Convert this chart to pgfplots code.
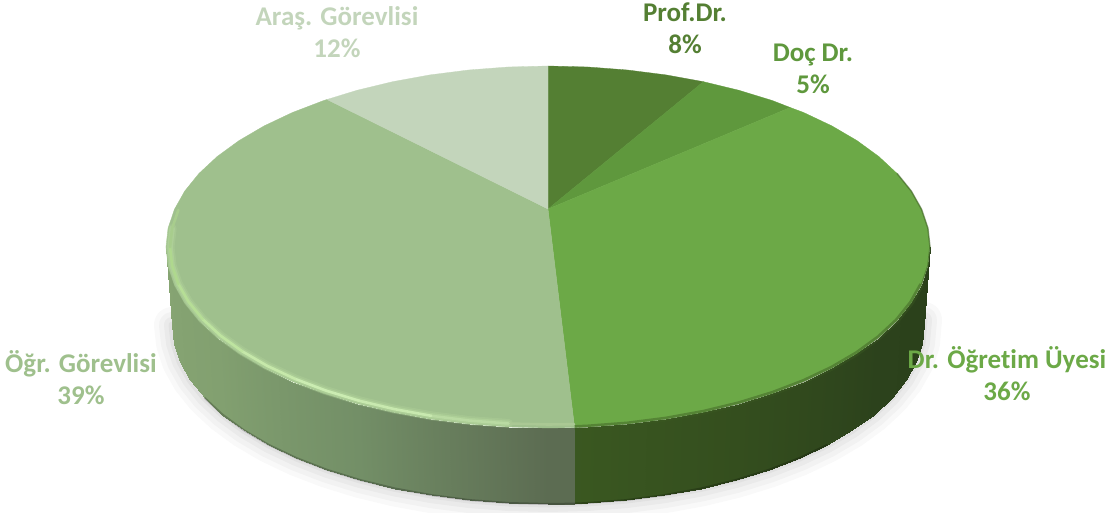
\documentclass[border=0pt]{standalone}
\usepackage{fontspec}
\setmainfont[Ligatures=NoCommon]{Carlito}
\usepackage{pgfplots}
\pgfplotsset{compat=1.18}
\definecolor{cProf}{RGB}{84,127,51}
\definecolor{cDoc}{RGB}{95,152,61}
\definecolor{cDr}{RGB}{108,169,71}
\definecolor{cOgr}{RGB}{159,192,141}
\definecolor{cAras}{RGB}{195,213,187}
\newcommand\hl[4]{\addplot[no marks, color={rgb,255:red,#1;green,#2;blue,#3}, line width=2.6pt, line cap=round] coordinates {#4};}
\pgfplotstableread{
x y
924 320
921.9 343.7
915.8 362.2
905.6 380.3
891.5 397.8
873.6 414.5
852.2 430.2
827.4 444.8
799.6 458
769 469.8
736 480
700.9 488.5
664.2 495.2
626.2 500.1
587.3 503
548 504
508.7 503
469.8 500.1
431.8 495.2
395.1 488.5
360 480
327 469.8
296.4 458
268.6 444.8
243.8 430.2
222.4 414.5
204.5 397.8
190.4 380.3
180.2 362.2
174.1 343.7
172 325
}\shadowedge
\pgfplotstableread{
x y
508.5 423.5
469.4 420.6
431.2 415.8
394.2 409.1
359 400.7
325.9 390.6
295.1 378.9
267.1 365.8
242.2 351.3
220.7 335.8
202.7 319.2
188.5 301.8
178.3 283.9
172.1 265.5
170 247
172.1 228.5
}\rimsoft
\pgfplotstableread{
x y
921.6 284.6
911.3 302.9
897 320.6
878.8 337.5
857 353.4
831.9 368.1
803.6 381.5
772.5 393.4
739 403.7
703.4 412.3
666 419.1
627.4 424
587.9 427
574.6 427.6
}\rimdark
\pgfplotstableread{
x y
897 173.4
911.3 191.1
921.6 209.4
927.9 228.1
930 247
927.9 265.9
921.6 284.6
}\rimthin
\pgfplotstableread{
x y
574.2 503.6
548 504
508.7 503
469.8 500.1
431.8 495.2
395.1 488.5
360 480
327 469.8
296.4 458
268.6 444.8
243.8 430.2
222.4 414.5
204.5 397.8
}\baseL
\pgfplotstableread{
x y
574.2 503.6
587.3 503
626.2 500.1
664.2 495.2
700.9 488.5
736 480
769 469.8
799.6 458
827.4 444.8
}\baseR
\begin{document}
\begin{tikzpicture}
\begin{axis}[
  scale only axis, width=1109pt, height=513pt,
  xmin=0, xmax=1109, ymin=0, ymax=513, y dir=reverse,
  hide axis, point meta min=0, point meta max=180,
  colormap={rwall}{rgb255=(42,64,26) rgb255=(44,66,28) rgb255=(52,78,30) rgb255=(59,89,33) rgb255=(59,89,33) rgb255=(59,89,33) rgb255=(59,89,33)},
  colormap={lwall}{rgb255=(92,108,82) rgb255=(92,108,82) rgb255=(92,108,82) rgb255=(92,108,82) rgb255=(115,143,103) rgb255=(130,160,112) rgb255=(135,165,115)},
]
% soft shadow
\addplot[no marks, gray, line width=36pt, opacity=.05, line join=round, line cap=round] table {\shadowedge};
\addplot[no marks, gray, line width=26pt, opacity=.06, line join=round, line cap=round] table {\shadowedge};
\addplot[no marks, gray, line width=16pt, opacity=.07, line join=round, line cap=round] table {\shadowedge};
\addplot[no marks, gray, line width=7pt, opacity=.08, line join=round, line cap=round] table {\shadowedge};
% side wall, right part (Dr. Ogretim Uyesi)
\addplot[patch, patch type=rectangle, shader=interp, colormap name=rwall, table/row sep=\\,
 patch table={0 1 3 2\\2 3 5 4\\4 5 7 6\\6 7 9 8\\8 9 11 10\\10 11 13 12\\12 13 15 14\\14 15 17 16\\16 17 19 18\\18 19 21 20\\20 21 23 22\\22 23 25 24\\24 25 27 26\\26 27 29 28\\28 29 31 30\\}]
 table[row sep=\\, x=x, y=y, point meta=\thisrow{c}]{
x y c\\
930 247 0\\ 924 325 0\\
927.9 265.9 6\\ 921.9 343.7 6\\
921.6 284.6 12\\ 915.8 362.2 12\\
911.3 302.9 18\\ 905.6 380.3 18\\
897 320.6 24\\ 891.5 397.8 24\\
878.8 337.5 30\\ 873.6 414.5 30\\
857 353.4 36\\ 852.2 430.2 36\\
831.9 368.1 42\\ 827.4 444.8 42\\
803.6 381.5 48\\ 799.6 458 48\\
772.5 393.4 54\\ 769 469.8 54\\
739 403.7 60\\ 736 480 60\\
703.4 412.3 66\\ 700.9 488.5 66\\
666 419.1 72\\ 664.2 495.2 72\\
627.4 424 78\\ 626.2 500.1 78\\
587.9 427 84\\ 587.3 503 84\\
574.6 427.6 86\\ 574.2 503.6 86\\
};
% side wall, left part (Ogr. Gorevlisi)
\addplot[patch, patch type=rectangle, shader=interp, colormap name=lwall, table/row sep=\\,
 patch table={0 1 3 2\\2 3 5 4\\4 5 7 6\\6 7 9 8\\8 9 11 10\\10 11 13 12\\12 13 15 14\\14 15 17 16\\16 17 19 18\\18 19 21 20\\20 21 23 22\\22 23 25 24\\24 25 27 26\\26 27 29 28\\28 29 31 30\\30 31 33 32\\}]
 table[row sep=\\, x=x, y=y, point meta=\thisrow{c}]{
x y c\\
574.6 427.6 86\\ 574.2 503.6 86\\
548 428 90\\ 548 504 90\\
508.1 427 96\\ 508.7 503 96\\
468.6 424 102\\ 469.8 500.1 102\\
430 419.1 108\\ 431.8 495.2 108\\
392.6 412.3 114\\ 395.1 488.5 114\\
357 403.7 120\\ 360 480 120\\
323.5 393.4 126\\ 327 469.8 126\\
292.4 381.5 132\\ 296.4 458 132\\
264.1 368.1 138\\ 268.6 444.8 138\\
239 353.4 144\\ 243.8 430.2 144\\
217.2 337.5 150\\ 222.4 414.5 150\\
199 320.6 156\\ 204.5 397.8 156\\
184.7 302.9 162\\ 190.4 380.3 162\\
174.4 284.6 168\\ 180.2 362.2 168\\
168.1 265.9 174\\ 174.1 343.7 174\\
166 247 180\\ 172 325 180\\
};
% darker foot of the wall
\addplot[no marks, black, line width=2pt, opacity=.22] table {\baseL};
\addplot[no marks, black, line width=2pt, opacity=.22] table {\baseR};
% top faces
\addplot[fill=cProf, draw=cProf, line width=.3pt] coordinates {(548,209)(548,66)(587.9,67)(627.4,70)(666,74.9)(703.4,81.7)} -- cycle;
\addplot[fill=cDoc, draw=cDoc, line width=.3pt] coordinates {(548,209)(703.4,81.7)(739,90.3)(772.5,100.6)(790.2,107.5)} -- cycle;
\addplot[fill=cDr, draw=cDr, line width=.3pt] coordinates {(548,209)(790.2,107.5)(803.6,112.5)(831.9,125.9)(857,140.6)(878.8,156.5)(897,173.4)(911.3,191.1)(921.6,209.4)(927.9,228.1)(930,247)
 (927.9,265.9)(921.6,284.6)(911.3,302.9)(897,320.6)(878.8,337.5)(857,353.4)(831.9,368.1)(803.6,381.5)(772.5,393.4)(739,403.7)(703.4,412.3)(666,419.1)(627.4,424)(587.9,427)(574.6,427.6)} -- cycle;
\addplot[fill=cOgr, draw=cOgr, line width=.3pt] coordinates {(548,209)(574.6,427.6)(548,428)(508.1,427)(468.6,424)(430,419.1)(392.6,412.3)(357,403.7)(323.5,393.4)(292.4,381.5)(264.1,368.1)(239,353.4)(217.2,337.5)(199,320.6)(184.7,302.9)(174.4,284.6)(168.1,265.9)(166,247)
 (168.1,228.1)(174.4,209.4)(184.7,191.1)(199,173.4)(217.2,156.5)(239,140.6)(264.1,125.9)(292.4,112.5)(323.5,100.6)(327,99.5)} -- cycle;
\addplot[fill=cAras, draw=cAras, line width=.3pt] coordinates {(548,209)(327,99.5)(357,90.3)(392.6,81.7)(430,74.9)(468.6,70)(508.1,67)(548,66)} -- cycle;
% bevel of the top face
\addplot[no marks, color={rgb,255:red,190;green,225;blue,165}, line width=9pt, opacity=.2, line join=round, line cap=round] table {\rimsoft};
\addplot[no marks, color={rgb,255:red,190;green,225;blue,165}, line width=5.5pt, opacity=.35, line join=round, line cap=round] table {\rimsoft};
\hl{170}{200}{148}{(574,424.2)(548,424.5)(508.5,423.5)}
\hl{185}{218}{162}{(508.5,423.5)(469.4,420.6)(431.2,415.8)}
\hl{200}{233}{175}{(431.2,415.8)(394.2,409.1)(359,400.7)}
\hl{203}{236}{178}{(359,400.7)(325.9,390.6)(295.1,378.9)}
\hl{198}{232}{170}{(295.1,378.9)(267.1,365.8)(242.2,351.3)}
\hl{190}{228}{160}{(242.2,351.3)(220.7,335.8)(202.7,319.2)}
\hl{182}{222}{150}{(202.7,319.2)(188.5,301.8)(178.3,283.9)}
\hl{175}{216}{142}{(178.3,283.9)(172.1,265.5)(170,247)}
\hl{168}{205}{141}{(170,247)(172.1,228.5)(178.3,210.1)}
\addplot[no marks, color={rgb,255:red,58;green,88;blue,33}, line width=5pt, opacity=.45, line join=round] table {\rimdark};
\addplot[no marks, color={rgb,255:red,58;green,88;blue,33}, line width=1.5pt, opacity=.5, line join=round] table {\rimthin};
\end{axis}
\begin{axis}[
  scale only axis, width=1109pt, height=513pt,
  xmin=0, xmax=1109, ymin=0, ymax=513, y dir=reverse,
  hide axis, nodes={font=\fontsize{27}{32}\selectfont\bfseries, align=center},
]
\node[text=cProf] at (axis cs:685,28) {Prof.Dr.\\8\%};
\node[text=cDoc] at (axis cs:813,69) {Doç Dr.\\5\%};
\node[text=cDr] at (axis cs:1007,374) {Dr. Öğretim Üyesi\\36\%};
\node[text=cOgr] at (axis cs:81,378) {Öğr. Görevlisi\\39\%};
\node[text=cAras] at (axis cs:337,32) {Araş. Görevlisi\\12\%};
\end{axis}
\path[use as bounding box] (0,0) rectangle (1109pt,513pt);
\end{tikzpicture}
\end{document}
